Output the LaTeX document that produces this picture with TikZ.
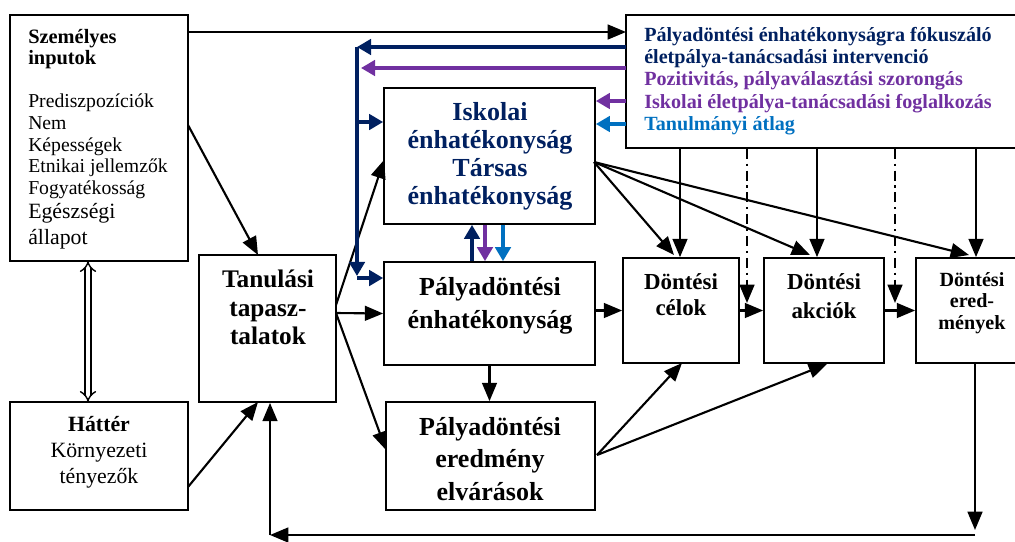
\documentclass[tikz,border=0pt]{standalone}
\usepackage{fontspec}
\setmainfont{Liberation Serif}
\usetikzlibrary{arrows.meta,positioning}
\definecolor{intnavy}{RGB}{0,32,96}
\definecolor{intpurple}{RGB}{112,48,160}
\definecolor{intblue}{RGB}{0,112,192}
\tikzset{
  box/.style={draw,line width=1.2pt,inner sep=0pt},
  txt/.style={inner sep=0pt,align=center},
  arr/.style={line width=1.5pt,-{Triangle[length=13pt,width=10.5pt]}},
  colarr/.style={line width=2.4pt,-{Triangle[length=10pt,width=11pt]}},
  dotarr/.style={line width=1.5pt,dash pattern=on 7pt off 3.5pt on 1.5pt off 3.5pt,-{Triangle[length=13pt,width=10.5pt]}},
  dblarr/.style={double,double distance=3pt,line width=1pt,{Implies}-{Implies}},
}

\begin{document}
\begin{tikzpicture}[x=0.025cm,y=-0.025cm]
\useasboundingbox (0,0) rectangle (1015,541);

% boxes
\node[box,minimum width=4.45cm,minimum height=6.15cm] (pers) at (99,138) {};
\node[box,minimum width=4.45cm,minimum height=2.7cm] (hatter) at (99,456) {};
\node[box,minimum width=3.425cm,minimum height=3.675cm] (tan) at (267.5,328.5) {};
\node[box,minimum width=5.275cm,minimum height=3.4cm] (isk) at (489.5,156) {};
\node[box,minimum width=5.275cm,minimum height=2.575cm] (pds) at (489.5,313.5) {};
\node[box,minimum width=5.225cm,minimum height=2.7cm] (elv) at (490.5,456) {};
\node[box,minimum width=2.9cm,minimum height=2.625cm] (cel) at (681,310.5) {};
\node[box,minimum width=3cm,minimum height=2.625cm] (akc) at (824,310.5) {};
\node[box,minimum width=2.725cm,minimum height=2.625cm] (ered) at (970.5,310.5) {};
\node[box,minimum width=9.975cm,minimum height=3.325cm] (interv) at (825.5,81.5) {};

% texts
\node[txt,anchor=north west,align=left,font=\bfseries\fontsize{14.5}{15.2}\selectfont] (persH) at (28,29) {Személyes\\inputok};
\node[txt,anchor=north west,align=left,font=\fontsize{14}{15.4}\selectfont] (persL) at (28,94) {Prediszpozíciók\\Nem\\Képességek\\Etnikai jellemzők\\Fogyatékosság};
\node[txt,anchor=north west,align=left,font=\fontsize{15.5}{18.4}\selectfont] (persE) at (28,203) {Egészségi\\állapot};
\node[txt,anchor=north,font=\fontsize{15.5}{18.4}\selectfont] (hatterT) at (99,416) {\textbf{Háttér}\\Környezeti\\tényezők};
\node[txt,anchor=north,font=\bfseries\fontsize{18}{20.2}\selectfont] (tanT) at (268,270) {Tanulási\\tapasz-\\talatok};
\node[txt,anchor=north,text=intnavy,font=\bfseries\fontsize{18.5}{20}\selectfont] (iskT) at (490,102) {Iskolai\\énhatékonyság\\Társas\\énhatékonyság};
\node[txt,anchor=north,font=\bfseries\fontsize{18.5}{23.4}\selectfont] (pdsT) at (490,277) {Pályadöntési\\énhatékonyság};
\node[txt,anchor=north,font=\bfseries\fontsize{18.5}{23}\selectfont] (elvT) at (490,417) {Pályadöntési\\eredmény\\elvárások};
\node[txt,anchor=north,font=\bfseries\fontsize{16.3}{19}\selectfont] (celT) at (681,273) {Döntési\\célok};
\node[txt,anchor=north,font=\bfseries\fontsize{16.3}{20.5}\selectfont] (akcT) at (824,273) {Döntési\\akciók};
\node[txt,anchor=north,font=\bfseries\fontsize{14.3}{15.2}\selectfont] (eredT) at (972,272) {Döntési\\ered-\\mények};
\node[txt,anchor=north west,align=left,font=\bfseries\fontsize{14.3}{15.8}\selectfont] (intT) at (644,27)
  {\textcolor{intnavy}{Pályadöntési énhatékonyságra fókuszáló}\\
   \textcolor{intnavy}{életpálya-tanácsadási intervenció}\\
   \textcolor{intpurple}{Pozitivitás, pályaválasztási szorongás}\\
   \textcolor{intpurple}{Iskolai életpálya-tanácsadási foglalkozás}\\
   \textcolor{intblue}{Tanulmányi átlag}};

% connector ends
\coordinate (pA) at (188,32);
\coordinate (iA) at (626,32);
\coordinate (pB) at (188,125);
\coordinate (tB) at (258,255);
\coordinate (hA) at (188,487);
\coordinate (tC) at (258,402);
\coordinate (pD) at (88,261);
\coordinate (hD) at (88,402);
\coordinate (tR1) at (336,305);
\coordinate (tR2) at (336,313);
\coordinate (iL) at (384,160);
\coordinate (eL) at (386,450);
\coordinate (eR) at (597,455);
\coordinate (cB) at (682,363);
\coordinate (aB) at (827,364);
\coordinate (iR) at (594,162);
\coordinate (dd1) at (747,303);
\coordinate (dd2) at (895,303);
\coordinate (lR) at (975,530);
\coordinate (lR2) at (975,535);
\coordinate (lL) at (270,535);

% black connectors
\draw[arr] (pA) -- (iA);
\draw[arr] (pB) -- (tB);
\draw[arr] (hA) -- (tC);
\draw[dblarr] (pD) -- (hD);
\draw[arr] (tR1) -- (iL);
\draw[arr] (tR2) -- (pds.west);
\draw[arr] (tR2) -- (eL);
\draw[arr] (pds.east |- cel.west) -- (cel.west);
\draw[arr] (pds.south) -- (pds.south |- elv.north);
\draw[arr] (eR) -- (cB);
\draw[arr] (eR) -- (aB);
\draw[arr] (cel.east) -- (akc.west);
\draw[arr] (akc.east) -- (ered.west);
\draw[arr] (680,0 |- interv.south) -- (680,0 |- cel.north);
\draw[arr] (817,0 |- interv.south) -- (817,0 |- akc.north);
\draw[arr] (976,0 |- interv.south) -- (976,0 |- ered.north);
\draw[dotarr] (747,0 |- interv.south) -- (dd1);
\draw[dotarr] (895,0 |- interv.south) -- (dd2);
\draw[arr] (iR) -- (674,255);
\draw[arr] (iR) -- (810,255);
\draw[arr] (iR) -- (969,255);
\draw[arr] (975,0 |- ered.south) -- (lR);
\draw[arr] (lR2) -- (lL);
\draw[arr] (lL) -- (270,0 |- tan.south);

% coloured connectors
\coordinate (vTop) at (357,47);
\coordinate (vBot) at (357,276);
\coordinate (vI) at (357,122);
\coordinate (vP) at (357,278);
\coordinate (iN) at (626,47);
\coordinate (iP1) at (626,68);
\coordinate (vP1) at (361,68);
\coordinate (iP2) at (626,101);
\coordinate (iB) at (626,124);
\draw[colarr,intnavy] (iN) -- (vTop);
\draw[colarr,intnavy] (vTop) -- (vBot);
\draw[colarr,intnavy] (vI) -- (vI -| isk.west);
\draw[colarr,intnavy] (vP) -- (vP -| pds.west);
\draw[colarr,intpurple] (iP1) -- (vP1);
\draw[colarr,intpurple] (iP2) -- (iP2 -| isk.east);
\draw[colarr,intblue] (iB) -- (iB -| isk.east);
\draw[colarr,intnavy] (472,0 |- pds.north) -- (472,0 |- isk.south);
\draw[colarr,intpurple] (485,0 |- isk.south) -- (485,0 |- pds.north);
\draw[colarr,intblue] (503,0 |- isk.south) -- (503,0 |- pds.north);
\end{tikzpicture}
\end{document}
